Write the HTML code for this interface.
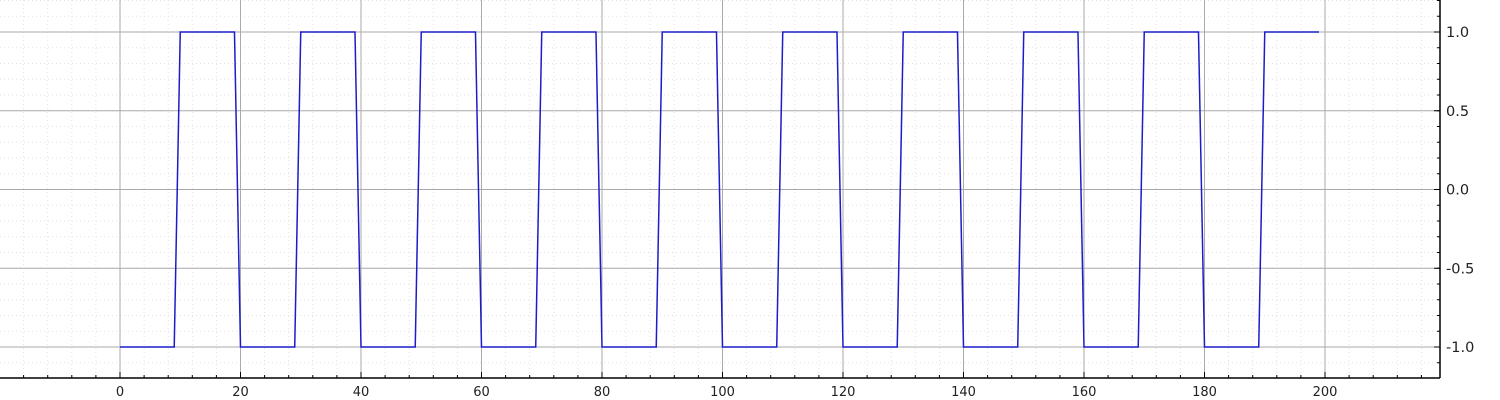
<!DOCTYPE html>
<html><head><meta charset="utf-8"><style>
html,body{margin:0;padding:0;background:#fff;}
svg{display:block;font-family:"DejaVu Sans","Liberation Sans",sans-serif;}
</style></head><body>
<svg id="chart" width="1500" height="400" xmlns="http://www.w3.org/2000/svg">
<g id="grid"></g>
<path id="series" fill="none" stroke="#1c1cc8" stroke-width="1.5"></path>
<g id="axes"></g>
</svg>
<script>
const xTicks = [0,20,40,60,80,100,120,140,160,180,200];
const yTicks = [-1.0,-0.5,0.0,0.5,1.0];
const yTickLabels = ["-1.0","-0.5","0.0","0.5","1.0"];
const seriesX = [0,9,10,19,20,29,30,39,40,49,50,59,60,69,70,79,80,89,90,99,100,109,110,119,120,129,130,139,140,149,150,159,160,169,170,179,180,189,190,199];
const seriesY = [-1,-1,1,1,-1,-1,1,1,-1,-1,1,1,-1,-1,1,1,-1,-1,1,1,-1,-1,1,1,-1,-1,1,1,-1,-1,1,1,-1,-1,1,1,-1,-1,1,1];

const X0=120, XS=(1325-120)/200, Y0=189.5, YS=157.5;
const L=0, R=1440, T=0, B=378;
function sx(v){return X0+v*XS;}
function sy(v){return Y0-v*YS;}
const NS="http://www.w3.org/2000/svg";
function mk(tag,attrs,parent){const e=document.createElementNS(NS,tag);for(const k in attrs)e.setAttribute(k,attrs[k]);parent.appendChild(e);return e;}
const grid=document.getElementById('grid'), axes=document.getElementById('axes');

for(let v=-20; v<=220; v+=4){const x=sx(v); if(x<L||x>R)continue;
  const l=mk('line',{x1:x,x2:x,y1:T,y2:B,stroke:'#e2e2e2','stroke-width':1,'stroke-dasharray':'1,3'},grid);
   
  const t=mk('line',{x1:x,x2:x,y1:B-3,y2:B,stroke:'#000','stroke-width':1},axes);
   }
for(let i=-13;i<=13;i++){const y=sy(i/10); if(y<T||y>B)continue;
  const l=mk('line',{x1:L,x2:R,y1:y,y2:y,stroke:'#e2e2e2','stroke-width':1,'stroke-dasharray':'1,3'},grid);
   
  const t=mk('line',{x1:R-3,x2:R,y1:y,y2:y,stroke:'#000','stroke-width':1},axes);
   }
xTicks.forEach(v=>{const x=sx(v);
  const l=mk('line',{x1:x,x2:x,y1:T,y2:B,stroke:'#aaaaaa','stroke-width':1},grid);
   
  const t=mk('line',{x1:x,x2:x,y1:B-6,y2:B,stroke:'#000','stroke-width':1},axes);
   
  const tx=mk('text',{x:x,y:396,'text-anchor':'middle','font-size':13,fill:'#222'},axes);
  tx.textContent=v;
   });
yTicks.forEach((v,i)=>{const y=sy(v);
  const l=mk('line',{x1:L,x2:R,y1:y,y2:y,stroke:'#aaaaaa','stroke-width':1},grid);
   
  const t=mk('line',{x1:R-6,x2:R,y1:y,y2:y,stroke:'#000','stroke-width':1},axes);
   
  const tx=mk('text',{x:1446,y:y+5,'text-anchor':'start','font-size':14.5,fill:'#222'},axes);
  tx.textContent=yTickLabels[i];
   });
const xa=mk('line',{x1:L,x2:R,y1:B,y2:B,stroke:'#000','stroke-width':1.5},axes);
 
const ya=mk('line',{x1:R,x2:R,y1:T,y2:B,stroke:'#000','stroke-width':1.5},axes);
 
let d='';
seriesX.forEach((v,i)=>{d+=(i?'L':'M')+sx(v).toFixed(2)+','+sy(seriesY[i]).toFixed(2);});
document.getElementById('series').setAttribute('d',d);
</script>
</body></html>
